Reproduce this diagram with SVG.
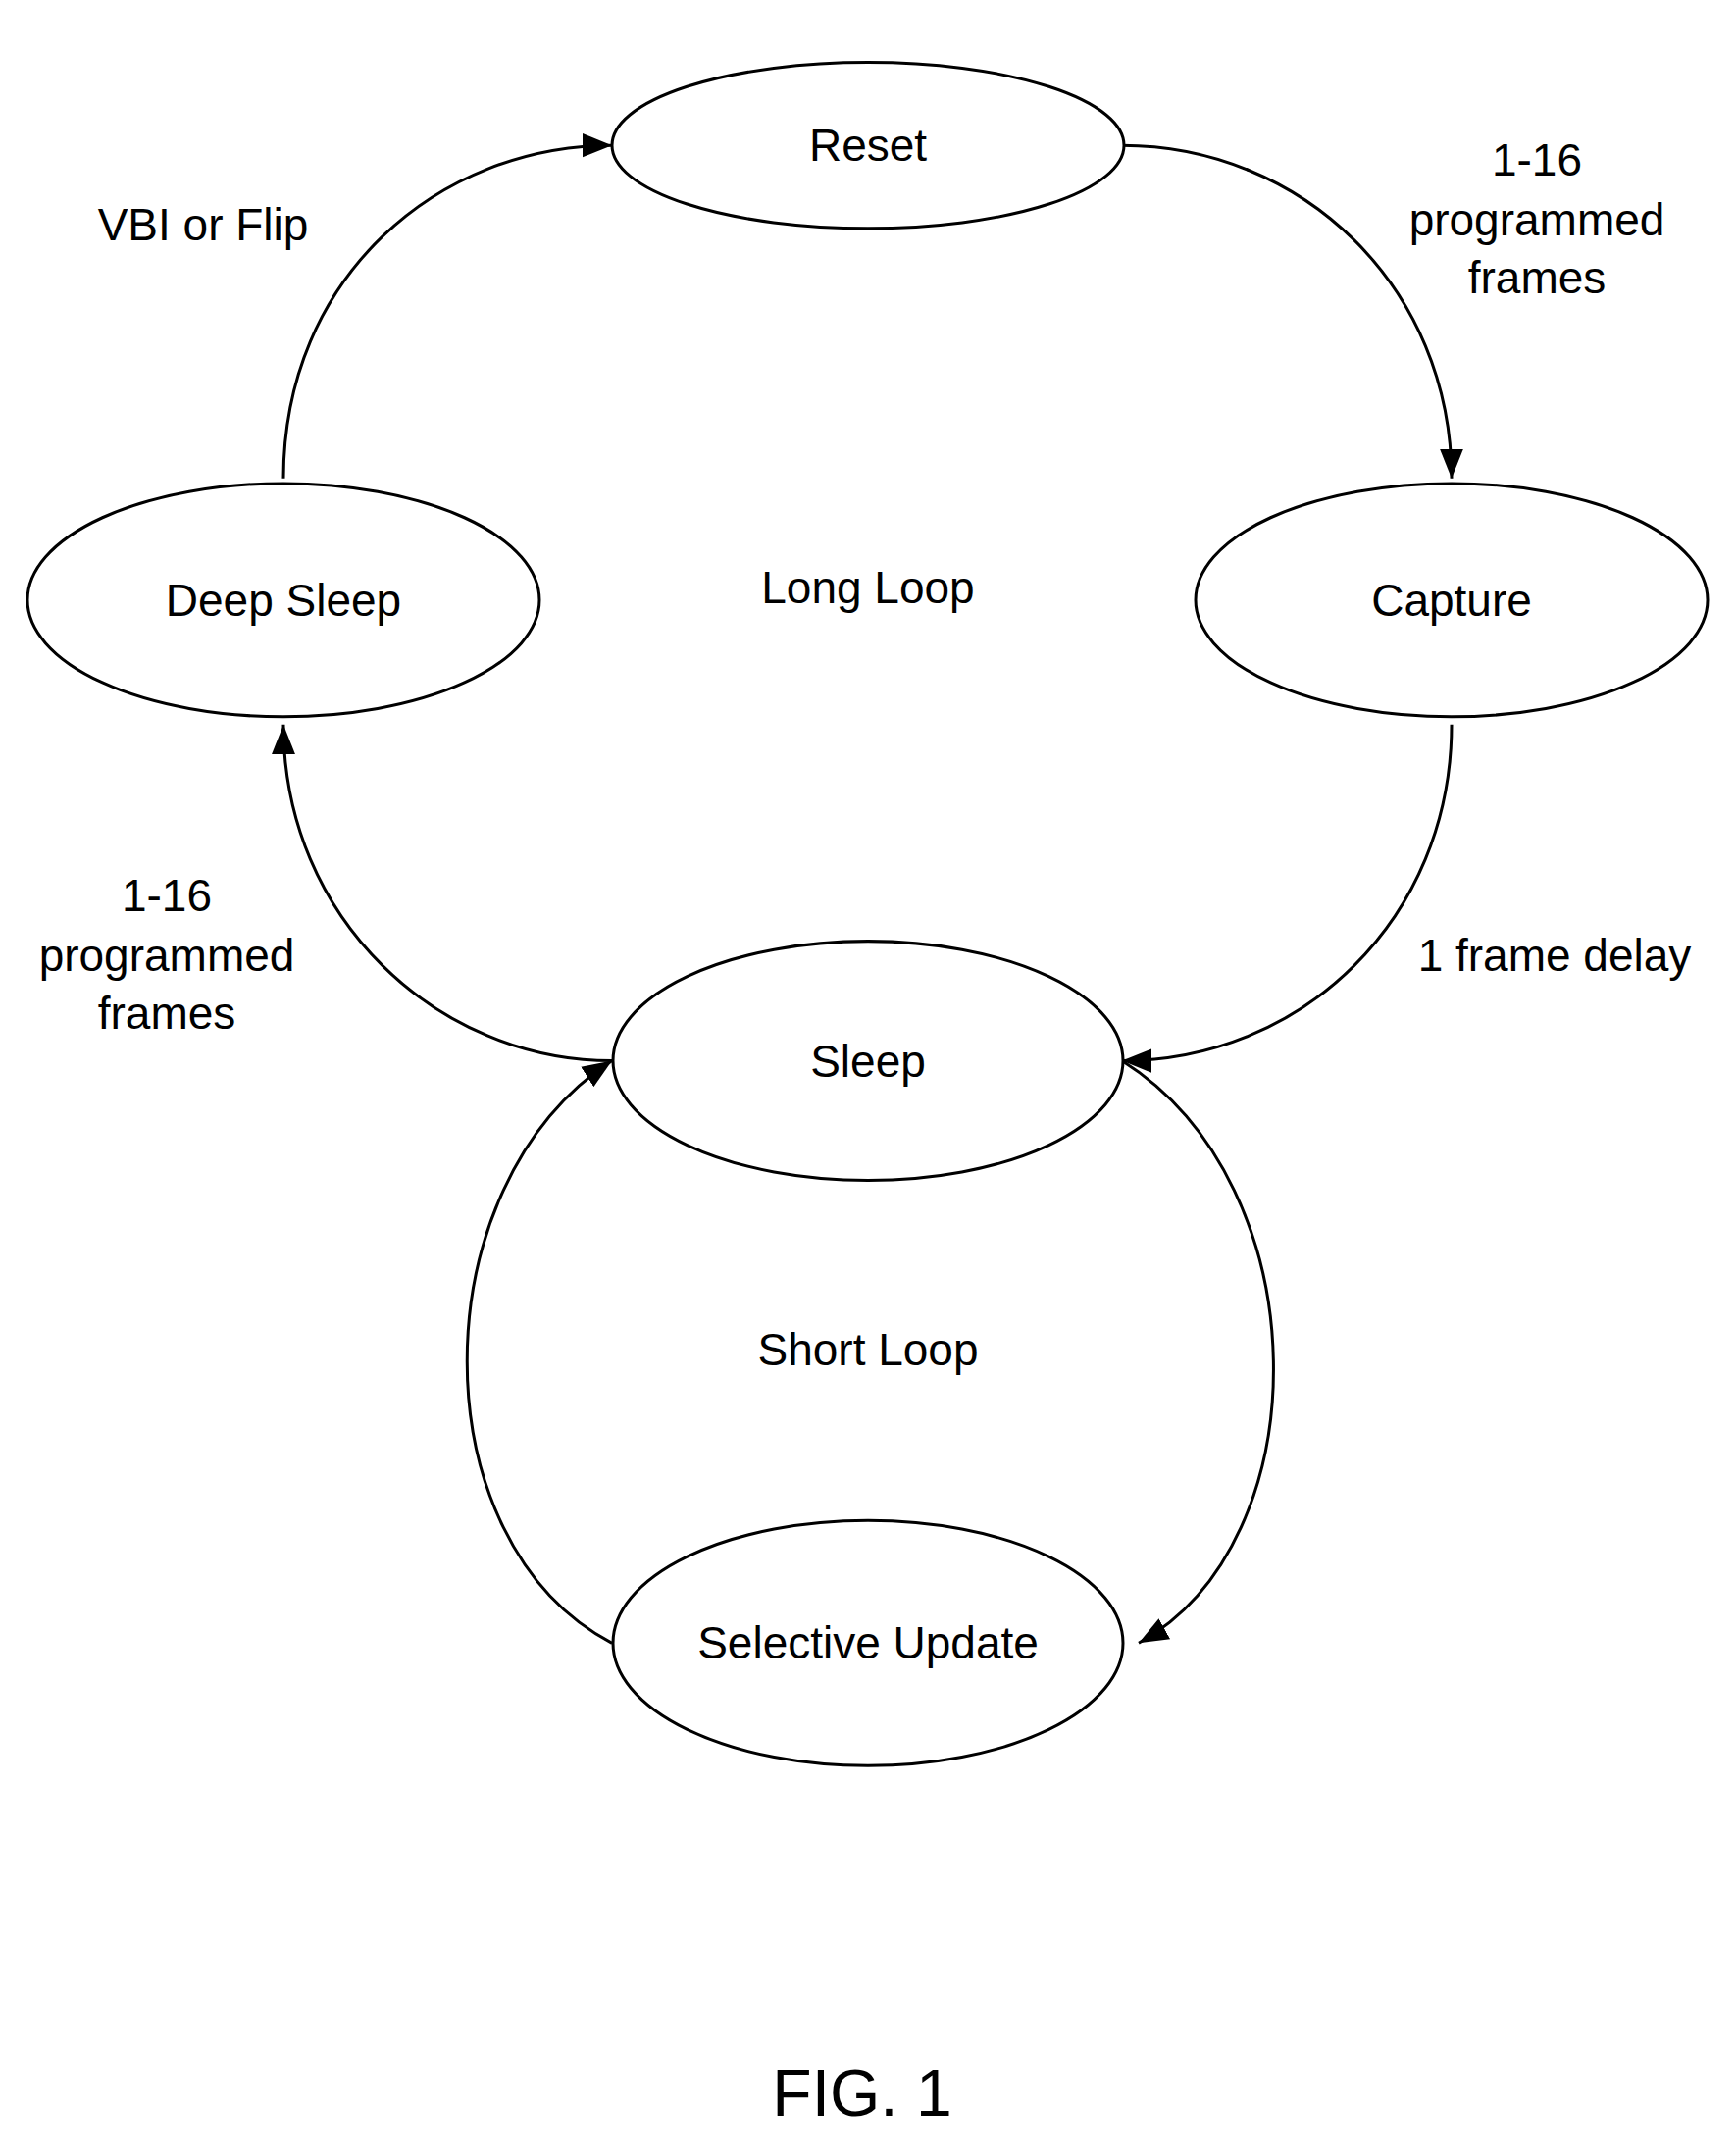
<svg xmlns="http://www.w3.org/2000/svg" width="1770" height="2185" viewBox="0 0 1770 2185">
<style>
.n{fill:#fff;stroke:#000;stroke-width:3}
text{font-family:"Liberation Sans",Arial,sans-serif;font-size:46px;text-anchor:middle;fill:#000}
</style>
<defs>
<marker id="a2" viewBox="0 0 10 10" refX="10" refY="5" markerWidth="30" markerHeight="30" markerUnits="userSpaceOnUse" orient="auto"><path d="M0,1L10,5L0,9z" fill="#000"/></marker></defs>
<rect width="1770" height="2185" fill="#fff"/>
<g transform="translate(7,0) scale(1,1.008)">
<g id="connectors" style="fill:none;stroke:#000;stroke-width:3">
<path d="M282,484 C282,280 440,147 617,147" marker-end="url(#a2)"/>
<path d="M1137,147 C1320,147 1473,290 1473,484" marker-end="url(#a2)"/>
<path d="M1473,733 C1473,930 1320,1073 1137,1073" marker-end="url(#a2)"/>
<path d="M617,1073 C440,1073 282,930 282,733" marker-end="url(#a2)"/>
<path d="M1137,1073 C1340,1200 1340,1560 1154,1662" marker-end="url(#a2)"/>
<path d="M617,1662 C420,1560 420,1200 617,1073" marker-end="url(#a2)"/>
</g>
<g id="reset"><ellipse class="n" cx="878" cy="147" rx="261" ry="84"/><text x="878" y="163">Reset</text></g>
<g id="deepsleep"><ellipse class="n" cx="282" cy="607" rx="261" ry="118"/><text x="282" y="623">Deep Sleep</text></g>
<g id="capture"><ellipse class="n" cx="1473" cy="607" rx="261" ry="118"/><text x="1473" y="623">Capture</text></g>
<g id="sleep"><ellipse class="n" cx="878" cy="1073" rx="260" ry="121"/><text x="878" y="1089">Sleep</text></g>
<g id="selective"><ellipse class="n" cx="878" cy="1662" rx="260" ry="124"/><text x="878" y="1678">Selective Update</text></g>
<g id="labels">
<text x="878" y="610">Long Loop</text>
<text x="878" y="1381">Short Loop</text>
<text x="200" y="243">VBI or Flip</text>
<text x="1560" y="178">1-16</text><text x="1560" y="238">programmed</text><text x="1560" y="297">frames</text>
<text x="163" y="922">1-16</text><text x="163" y="982">programmed</text><text x="163" y="1041">frames</text>
<text x="1578" y="982">1 frame delay</text>
<text x="872" y="2140" style="font-size:66px">FIG. 1</text>
</g>
</g>
</svg>
